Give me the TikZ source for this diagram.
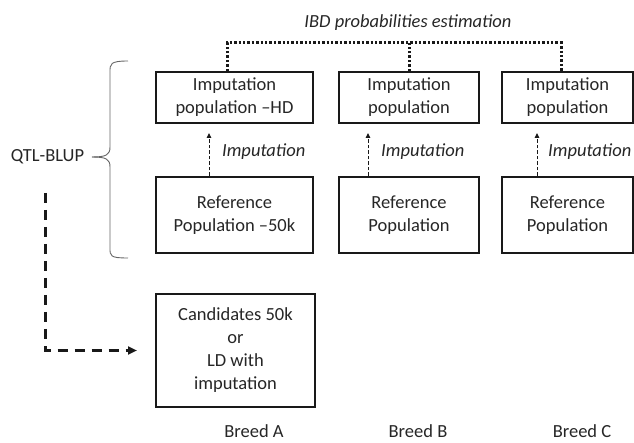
\documentclass[tikz,border=0pt]{standalone}
\usepackage{fontspec}
\setmainfont{Carlito}
\usetikzlibrary{arrows.meta}
\begin{document}
\begin{tikzpicture}[x=1pt,y=-1pt,
  box/.style={draw=black!90, line width=2pt, align=center, inner sep=0pt,
    font=\fontsize{18.5}{23}\selectfont, text=black!85},
  lbl/.style={font=\fontsize{18.5}{21}\selectfont, text=black!85, inner sep=0pt},
  ilbl/.style={font=\fontsize{18.5}{21}\selectfont\itshape, text=black!85, inner sep=0pt},
  ibd/.style={line width=3pt, dash pattern=on 2.4pt off 2pt, black!90},
  impar/.style={line width=1pt, dash pattern=on 3.5pt off 2pt, black!90,
    -{Triangle[length=5pt,width=4.5pt]}},
  bigdash/.style={line width=3pt, dash pattern=on 10pt off 7pt, black!90,
    -{Triangle[length=9pt,width=8pt]}},
  bracestyle/.style={line width=0.9pt, black!60}
]
\useasboundingbox (0,0) rectangle (634,443);

% top boxes
\node[box, minimum width=157pt, minimum height=51pt] (t1) at (234.5,97.5) {Imputation\\population –HD};
\node[box, minimum width=140pt, minimum height=51pt] (t2) at (409,97.5) {Imputation\\population};
\node[box, minimum width=131pt, minimum height=51pt] (t3) at (567.5,97.5) {Imputation\\population};

% reference boxes
\node[box, minimum width=157pt, minimum height=76pt] (r1) at (234.5,215) {Reference\\Population –50k};
\node[box, minimum width=140pt, minimum height=76pt] (r2) at (409,215) {Reference\\Population};
\node[box, minimum width=131pt, minimum height=76pt] (r3) at (567.5,215) {Reference\\Population};

% candidates
\node[box, minimum width=159pt, minimum height=113pt] (cand) at (235.5,350.5) {Candidates 50k\\or\\LD with\\imputation};

% labels
\node[ilbl] (ibdlbl) at (408,23) {IBD probabilities estimation};
\node[lbl] (qtl) at (47.5,157) {QTL-BLUP};
\node[ilbl, anchor=west] (i1) at (222,152) {Imputation};
\node[ilbl, anchor=west] (i2) at (381,152) {Imputation};
\node[ilbl, anchor=west] (i3) at (548,152) {Imputation};
\node[lbl] (ba) at (254,431) {Breed A};
\node[lbl] (bb) at (418,431) {Breed B};
\node[lbl] (bc) at (582,431) {Breed C};

% IBD dotted connector
\coordinate (ibdL) at (227,43);
\coordinate (ibdR) at (561,43);
\draw[ibd] ([xshift=-7.5pt]t1.north) -- (ibdL) -- (ibdR) -- ([xshift=-6.5pt]t3.north);
\draw[ibd] (t2.north) -- (t2.north |- ibdL);

% imputation arrows
\draw[impar, shorten >=9pt] ([xshift=-25.5pt]r1.north) -- ([xshift=-25.5pt]t1.south);
\draw[impar, shorten >=9pt] ([xshift=-41pt]r2.north) -- ([xshift=-41pt]t2.south);
\draw[impar, shorten >=9pt] ([xshift=-30.5pt]r3.north) -- ([xshift=-30.5pt]t3.south);

% brace
\draw[bracestyle] (128,61) .. controls (110,61) and (110,64) .. (110,72) -- (110,147)
  .. controls (110,155) and (106,157) .. (92,157);
\draw[bracestyle] (92,157) .. controls (106,157) and (110,159) .. (110,167) -- (110,248)
  .. controls (110,256) and (110,258) .. (128,258);

% big dashed arrow
\coordinate (dstart) at (45,193);
\draw[bigdash, shorten >=18pt] (dstart) |- (cand.west);
\end{tikzpicture}
\end{document}
